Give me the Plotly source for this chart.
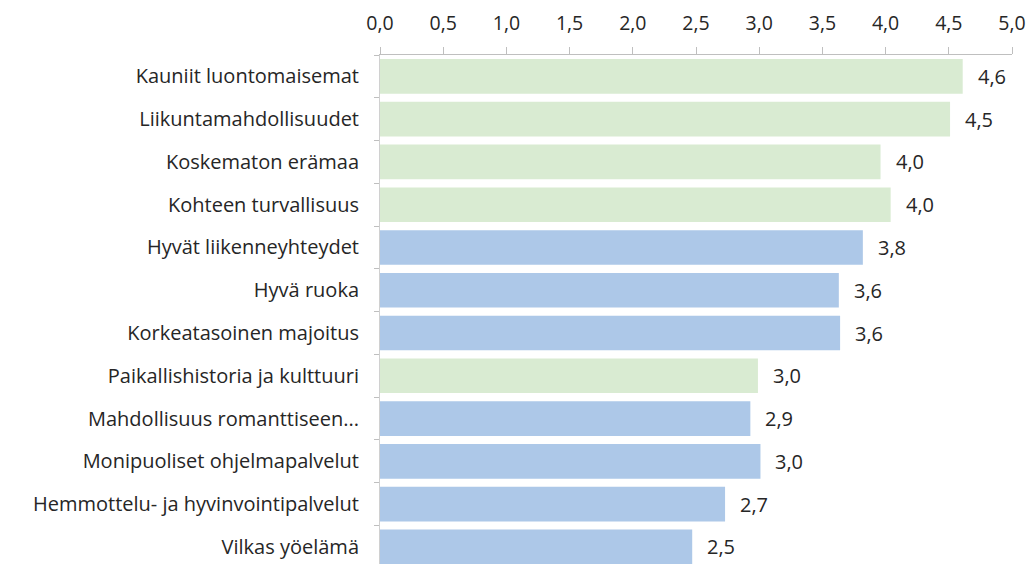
import plotly.graph_objects as go

categories = [
    "Kauniit luontomaisemat",
    "Liikuntamahdollisuudet",
    "Koskematon erämaa",
    "Kohteen turvallisuus",
    "Hyvät liikenneyhteydet",
    "Hyvä ruoka",
    "Korkeatasoinen majoitus",
    "Paikallishistoria ja kulttuuri",
    "Mahdollisuus romanttiseen...",
    "Monipuoliset ohjelmapalvelut",
    "Hemmottelu- ja hyvinvointipalvelut",
    "Vilkas yöelämä",
]
values = [4.61, 4.51, 3.96, 4.04, 3.82, 3.63, 3.64, 2.99, 2.93, 3.01, 2.73, 2.47]
groups = ["g", "g", "g", "g", "b", "b", "b", "g", "b", "b", "b", "b"]
x_ticks = [0, 0.5, 1, 1.5, 2, 2.5, 3, 3.5, 4, 4.5, 5]

GREEN = "#d9ebd2"
BLUE = "#adc8e8"
colors = [GREEN if g == "g" else BLUE for g in groups]
FONT = "Open Sans"
TXT = "#262626"
FS = 20

fig = go.Figure()
fig.add_trace(go.Bar(
    x=values, y=categories, orientation="h",
    marker=dict(color=colors, line=dict(width=0)),
    width=0.81,
    hoverinfo="x+y",
))

for v, c in zip(values, categories):
    fig.add_annotation(
        x=v, y=c, xref="x", yref="y",
        text=f"{v:.1f}".replace(".", ","),
        showarrow=False, xanchor="left", xshift=13,
        font=dict(family=FONT, size=FS, color=TXT),
    )

fig.update_layout(
    width=1018, height=556,
    margin=dict(l=372, r=14, t=47, b=0),
    paper_bgcolor="white", plot_bgcolor="white",
    separators=",.",
    showlegend=False,
    font=dict(family=FONT, size=FS, color=TXT),
)
fig.update_xaxes(
    side="top", range=[0, 5], tickvals=x_ticks, tickformat=".1f",
    ticks="outside", ticklen=7, tickcolor="#bfbfbf",
    ticklabelstandoff=9, automargin=False, ticklabeloverflow="allow",
    showline=True, linecolor="#bfbfbf", linewidth=1,
    showgrid=False, zeroline=False,
    tickfont=dict(family=FONT, size=19.5, color=TXT),
)
fig.update_yaxes(
    categoryorder="array", categoryarray=categories,
    range=[11.4, -0.5],
    ticks="outside", ticklen=5, tickcolor="#bfbfbf", tickson="boundaries",
    ticklabelstandoff=16, automargin=False,
    showline=True, linecolor="#d0d0d0", linewidth=1,
    showgrid=False, zeroline=False,
    tickfont=dict(family=FONT, size=FS, color=TXT),
)

fig.write_html("out.html")
